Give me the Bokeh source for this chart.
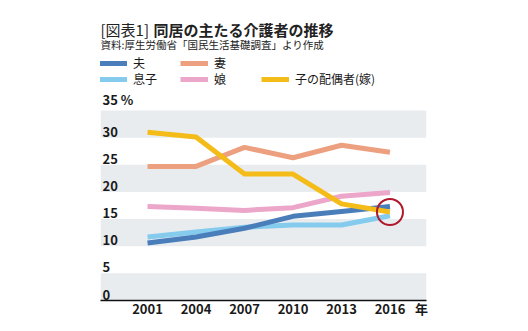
from bokeh.plotting import figure
from bokeh.models import ColumnDataSource, Label, Legend, LegendItem, FixedTicker, Range1d
from bokeh.core.properties import value
from bokeh.embed import file_html
from bokeh.resources import INLINE

years = [2001, 2004, 2007, 2010, 2013, 2016]
husband = [10.6, 11.7, 13.3, 15.5, 16.4, 17.3]
wife = [24.7, 24.7, 28.2, 26.3, 28.6, 27.3]
son = [11.7, 12.6, 13.5, 13.9, 13.9, 15.6]
daughter = [17.3, 17.0, 16.6, 17.1, 19.2, 19.9]
daughter_in_law = [31.0, 30.1, 23.3, 23.3, 17.8, 16.3]
y_ticks = [0, 5, 10, 15, 20, 25, 30, 35]
y_tick_labels = ["0", "5", "10", "15", "20", "25", "30", "35 %"]
x_unit_label = "年"
highlight_year = 2016
highlight_value = 16.3

FONT = "Noto Sans CJK JP"
X0, X1 = 1998.09, 2018.26
Y_TOP = 55.26  # room above the plot for title and legend
UNIT_X = 2017.95

p = figure(width=528, height=331, output_backend="svg", toolbar_location=None,
           x_range=Range1d(X0, X1), y_range=Range1d(0, Y_TOP),
           min_border_left=100, min_border_right=102, min_border_top=0,
           min_border_bottom=31, y_axis_location=None)
p.outline_line_color = None
p.xgrid.visible = False
p.ygrid.visible = False
p.background_fill_color = "white"
p.border_fill_color = "white"

# alternating bands
bottoms = y_ticks[0::2]
tops = y_ticks[1::2]
p.quad(left=[X0] * len(bottoms), right=[X1] * len(bottoms), bottom=bottoms, top=tops,
       fill_color="#e9ecef", line_color=None)

# x axis
p.xaxis.ticker = FixedTicker(ticks=years + [UNIT_X])
p.xaxis.major_label_overrides = {UNIT_X: x_unit_label}
p.xaxis.major_tick_line_color = None
p.xaxis.major_tick_out = 0
p.xaxis.major_tick_in = 0
p.xaxis.minor_tick_line_color = None
p.xaxis.minor_tick_out = 0
p.xaxis.axis_line_color = "#111111"
p.xaxis.axis_line_width = 1.5
p.xaxis.major_label_text_font = FONT
p.xaxis.major_label_text_font_style = "bold"
p.xaxis.major_label_text_font_size = "13px"
p.xaxis.major_label_text_color = "#1a1a1a"
p.xaxis.major_label_standoff = -2

# y tick labels inside frame
ysrc = ColumnDataSource(dict(x=[X0] * len(y_ticks), y=y_ticks, t=y_tick_labels))
p.text(x="x", y="y", text="t", source=ysrc, x_offset=2, y_offset=-1,
       text_font=value(FONT), text_font_style="bold", text_font_size="13px",
       text_color="#1a1a1a", text_align="left", text_baseline="bottom")

colors = dict(husband="#4a7ebb", wife="#eda07f", son="#84cbee",
              daughter="#eba6c9", dil="#f4bc18")
r_son = p.line(years, son, line_color=colors["son"], line_width=5, line_join="round")
r_hus = p.line(years, husband, line_color=colors["husband"], line_width=5, line_join="round")
r_dau = p.line(years, daughter, line_color=colors["daughter"], line_width=5, line_join="round")
r_wife = p.line(years, wife, line_color=colors["wife"], line_width=5, line_join="round")
r_dil = p.line(years, daughter_in_law, line_color=colors["dil"], line_width=5, line_join="round")

p.scatter([highlight_year], [highlight_value], marker="circle", size=26,
          fill_color=None, line_color="#b0182c", line_width=2)

# legends
def mk_legend(items, y):
    lg = Legend(items=items, location=(-1, y), orientation="horizontal",
                glyph_width=28, glyph_height=14, label_standoff=6, label_width=41,
                label_height=14, spacing=6, padding=0, margin=0,
                border_line_color=None, background_fill_alpha=0,
                label_text_font=FONT, label_text_font_size="12px",
                label_text_color="#1a1a1a")
    return lg

lg1 = mk_legend([LegendItem(label="夫", renderers=[r_hus]),
                 LegendItem(label="妻", renderers=[r_wife])], 229)
lg2 = mk_legend([LegendItem(label="息子", renderers=[r_son]),
                 LegendItem(label="娘", renderers=[r_dau]),
                 LegendItem(label="子の配偶者(嫁)", renderers=[r_dil])], 213)
p.add_layout(lg1, "center")
p.add_layout(lg2, "center")

# title and subtitle
p.add_layout(Label(x=0, y=261, x_units="screen", y_units="screen", text="[図表1]",
                   text_font=FONT, text_font_size="15px", text_color="#222222",
                   text_baseline="bottom"))
p.add_layout(Label(x=53, y=261, x_units="screen", y_units="screen",
                   text="同居の主たる介護者の推移", text_font=FONT, text_font_style="bold",
                   text_font_size="15px", text_color="#222222", text_baseline="bottom"))
p.add_layout(Label(x=0, y=249, x_units="screen", y_units="screen",
                   text="資料:厚生労働省「国民生活基礎調査」より作成",
                   text_font=FONT, text_font_size="10.5px", text_color="#222222",
                   text_baseline="bottom"))

open("out.html", "w").write(file_html(p, INLINE))
